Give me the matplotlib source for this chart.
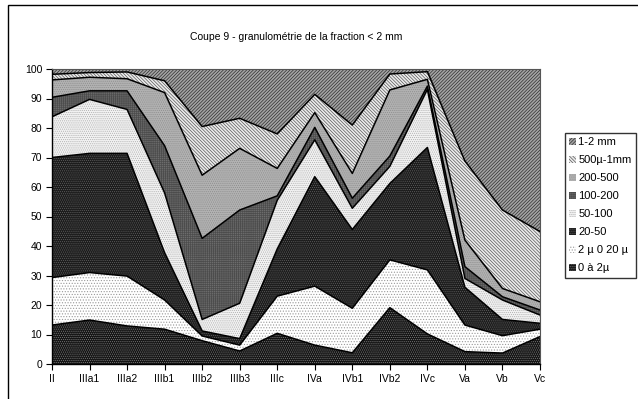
import numpy as np
import matplotlib
matplotlib.use('Agg')
from matplotlib import pyplot as plt
from matplotlib.patches import Patch, Rectangle

plt.rcParams['font.family'] = ['Liberation Sans', 'DejaVu Sans']
plt.rcParams['hatch.linewidth'] = 0.5

horizons = ['II', 'IIIa1', 'IIIa2', 'IIIb1', 'IIIb2', 'IIIb3', 'IIIc',
            'IVa', 'IVb1', 'IVb2', 'IVc', 'Va', 'Vb', 'Vc']

# pourcentages par fraction (du plus fin au plus grossier)
argile = [13.2, 14.9, 12.9, 11.8, 7.9, 4.4, 10.4, 6.4, 3.8, 19.1, 10.2, 4.2, 3.7, 9.3]
limon_fin = [16.1, 16.1, 16.9, 9.9, 1.6, 2.0, 12.6, 20.0, 15.1, 16.2, 21.7, 9.0, 5.9, 2.5]
limon_grossier = [40.7, 40.4, 41.6, 16.0, 1.7, 2.2, 16.0, 37.1, 26.7, 25.9, 41.5, 12.8, 5.5, 2.0]
sable_50_100 = [13.8, 18.3, 14.9, 20.3, 3.9, 12.0, 16.5, 12.5, 7.2, 5.8, 19.7, 3.0, 6.6, 2.8]
sable_100_200 = [6.6, 2.9, 6.3, 16.0, 27.5, 31.6, 1.5, 4.2, 3.4, 3.5, 1.1, 4.0, 1.1, 1.7]
sable_200_500 = [5.9, 4.6, 4.1, 18.0, 21.4, 20.9, 9.3, 5.0, 8.4, 22.4, 2.3, 9.0, 2.8, 2.8]
sable_500_1mm = [1.9, 1.6, 2.3, 4.0, 16.5, 10.2, 11.7, 6.2, 16.4, 5.4, 2.6, 26.8, 26.6, 23.8]
gravier = [1.8, 1.2, 1.0, 4.0, 19.5, 16.7, 22.0, 8.6, 19.0, 1.7, 0.9, 31.2, 47.8, 55.1]

series = [argile, limon_fin, limon_grossier, sable_50_100, sable_100_200,
          sable_200_500, sable_500_1mm, gravier]
labels = ['0 à 2µ', '2 µ 0 20 µ', '20-50', '50-100', '100-200',
          '200-500', '500µ-1mm', '1-2 mm']

# (fond, motif, couleur du motif) façon tableur noir et blanc
styles = [('#141414', '........', '#7a7a7a'),
          ('#ffffff', '......', '#9a9a9a'),
          ('#1c1c1c', '........', '#5e5e5e'),
          ('#f2f2f2', '........', '#b0b0b0'),
          ('#6c6c6c', '++++++++', '#4c4c4c'),
          ('#b2b2b2', '........', '#8e8e8e'),
          ('#ececec', '\\' * 10, '#585858'),
          ('#a4a4a4', '/' * 10, '#2e2e2e')]

fig = plt.figure(figsize=(6.38, 3.99), dpi=100)
ax = fig.add_axes([52 / 638, 1 - 364 / 399, 488 / 638, 295 / 399])

x = np.arange(len(horizons))
cum = np.cumsum(np.array(series), axis=0)
bottom = np.zeros(len(horizons))
for top, (fc, hatch, hc) in zip(cum, styles):
    ax.fill_between(x, bottom, top, facecolor=fc, hatch=hatch,
                    edgecolor=hc, linewidth=0)
    ax.plot(x, top, color='black', lw=1.1)
    bottom = top

ax.set_xlim(0, len(horizons) - 1)
ax.set_ylim(0, 100)
ax.set_yticks(range(0, 101, 10))
ax.set_xticks(x)
ax.set_xticklabels(horizons)
ax.tick_params(axis='both', labelsize=7.5, direction='out', length=4,
               width=0.8, pad=3)
for side in ['top', 'right']:
    ax.spines[side].set_color('#555555')
for side in ['left', 'bottom']:
    ax.spines[side].set_linewidth(1.0)

fig.text(296 / 638, 1 - 37 / 399, 'Coupe 9 - granulométrie de la fraction < 2 mm',
         ha='center', va='center', fontsize=7.5)

handles = [Patch(facecolor=fc, hatch=h, edgecolor=hc, linewidth=0)
           for fc, h, hc in styles]
leg = fig.legend(handles[::-1], labels[::-1], loc='upper left',
                 bbox_to_anchor=(565 / 638, 1 - 133 / 399),
                 fontsize=8, frameon=True, fancybox=False,
                 handlelength=0.6, handleheight=0.6, handletextpad=0.2,
                 labelspacing=0.72, borderpad=0.4, borderaxespad=0)
leg.get_frame().set_edgecolor('black')
leg.get_frame().set_linewidth(1.0)

# cadre du graphique
fig.patches.append(Rectangle((8 / 638, -0.05), 1.0, 1.0 - 5 / 399 + 0.05,
                             transform=fig.transFigure, fill=False,
                             edgecolor='black', lw=1.0))

fig.savefig('out.png', dpi=100)
